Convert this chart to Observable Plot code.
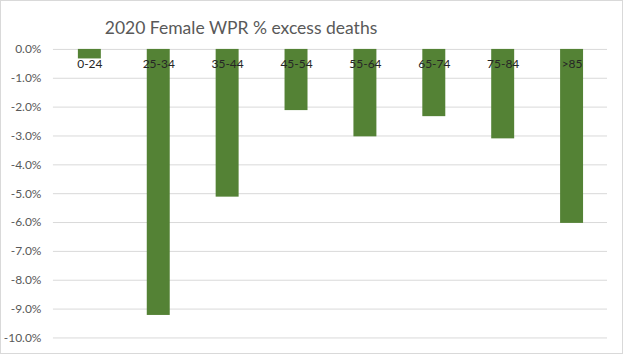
<!DOCTYPE html>
<html>
<head>
<meta charset="utf-8">
<script src="https://cdn.jsdelivr.net/npm/d3@7"></script>
<script src="https://cdn.jsdelivr.net/npm/@observablehq/plot@0.6"></script>
<style>
  html, body { margin: 0; padding: 0; background: #fff; }
  #wrap { position: relative; width: 623px; height: 354px; box-sizing: border-box; border: 1px solid #d9d9d9; overflow: hidden; }
  #title { position: absolute; left: 0; width: 480px; top: 16px; text-align: center; font-family: Lato, "Open Sans", sans-serif; font-size: 17.5px; color: #595959; }
  #chart { position: absolute; left: -1px; top: -1px; }
</style>
</head>
<body>
<div id="wrap">
  <div id="chart"></div>
  <div id="title">2020 Female WPR % excess deaths</div>
</div>
<script>
const categories = ["0-24", "25-34", "35-44", "45-54", "55-64", "65-74", "75-84", ">85"];
const values = [-0.33, -9.22, -5.12, -2.12, -3.03, -2.33, -3.10, -6.03];
const yTicks = [0, -1, -2, -3, -4, -5, -6, -7, -8, -9, -10];

const data = categories.map((c, i) => ({ cat: c, value: values[i] }));

const chart = Plot.plot({
  width: 623,
  height: 354,
  marginTop: 49,
  marginBottom: 16,
  marginLeft: 53,
  marginRight: 15,
  style: { fontFamily: "Lato, 'Open Sans', sans-serif", background: "transparent" },
  x: { domain: categories, paddingInner: 0.67, paddingOuter: 0.335, axis: null },
  y: { domain: [-10, 0], ticks: yTicks, label: null },
  marks: [
    Plot.gridY(yTicks, { stroke: "#d9d9d9", strokeOpacity: 1, strokeWidth: 1 }),
    Plot.axisY(yTicks, { tickSize: 0, tickPadding: 12, tickFormat: d => d.toFixed(1) + "%", fontSize: 12, fill: "#595959", label: null }),
    Plot.barY(data, { x: "cat", y: "value", fill: "#548235" }),
    Plot.text(data, { x: "cat", y: () => 0, text: "cat", dy: 15, fontSize: 12, fill: "#262626" })
  ]
});
document.getElementById("chart").appendChild(chart);
</script>
</body>
</html>
